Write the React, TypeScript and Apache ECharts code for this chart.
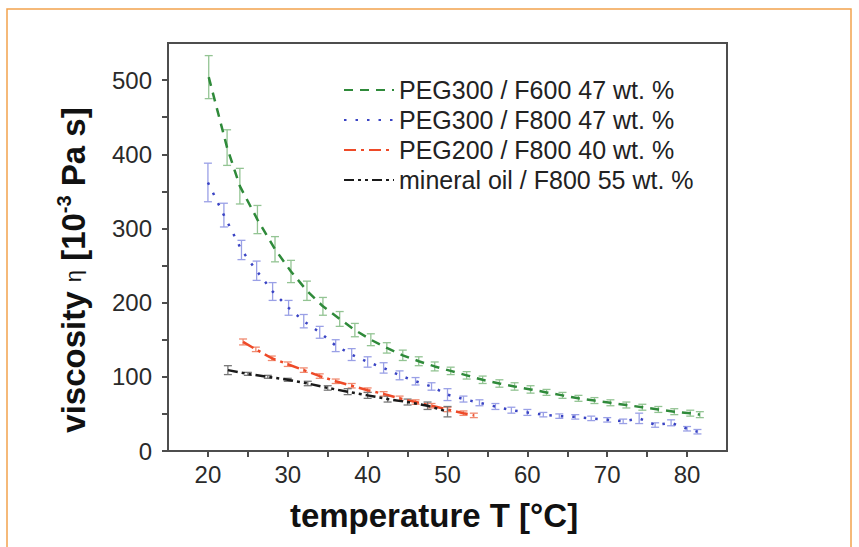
import React, { useEffect, useRef } from "react";
import * as echarts from "echarts";

// ---- data ----
const greenT = [20.1, 22.4, 24.0, 26.2, 28.4, 30.4, 32.4, 34.4, 36.5, 38.4, 40.4, 42.4, 44.4, 46.4, 48.4, 50.4, 52.4, 54.4, 56.5, 58.4, 60.4, 62.4, 64.4, 66.4, 68.4, 70.4, 72.4, 74.4, 76.4, 78.4, 80.4, 81.6];
const greenV = [504, 409, 357, 312, 272, 242, 216, 195, 178, 163, 150, 139, 129, 121, 114, 108, 102, 96, 91, 87, 83, 79, 75, 71, 68, 65, 62, 59, 56, 53, 51, 49];
const greenErr = [29, 24, 24, 19, 17, 15, 13, 12, 10, 9, 8, 7, 7, 6, 6, 5, 5, 5, 5, 5, 5, 4, 4, 4, 4, 4, 4, 4, 4, 4, 4, 4];

const blueT = [20, 22, 24.2, 26.1, 28.1, 30.1, 32, 34, 36, 38, 40, 42, 44, 46, 48, 50, 52, 54, 56, 58, 60, 62, 64, 66, 68, 70, 72, 74, 76, 78, 80, 81.3];
const blueV = [362, 318, 271, 243, 215, 193, 175, 160, 142, 130, 120, 112, 102, 94, 87, 76, 70, 65, 60, 55, 52, 49, 47, 46, 44, 42, 40, 44, 35, 38, 30, 26];
const blueErr = [26, 16, 13, 13, 12, 10, 9, 8, 8, 8, 7, 7, 6, 5, 5, 8, 4, 4, 4, 4, 4, 3, 3, 3, 3, 3, 3, 7, 3, 4, 3, 3];

const redT = [24.4, 26, 28, 30, 32, 34, 36, 38, 40, 42, 44, 46, 48, 50, 52, 53.3];
const redV = [147, 137, 125, 117, 109, 101, 94, 88, 82, 77, 71, 66, 61, 56, 51, 48];
const redErr = [4, 3, 3, 3, 3, 3, 3, 3, 3, 3, 3, 3, 3, 3, 3, 3];

const blackT = [22.5, 25, 27.5, 30, 32.5, 35, 37.5, 40, 42.5, 45, 47.5, 50];
const blackV = [109, 104, 100, 96, 91, 85, 80, 75, 70, 66, 61, 53];
const blackErr = [6, 2, 2, 2, 3, 3, 4, 4, 4, 4, 5, 7];

const seriesNames = [
  "PEG300 / F600 47 wt. %",
  "PEG300 / F800 47 wt. %",
  "PEG200 / F800 40 wt. %",
  "mineral oil / F800 55 wt. %",
];

const xLabelTicks = [20, 30, 40, 50, 60, 70, 80];
const xTickValues = [20, 25, 30, 35, 40, 45, 50, 55, 60, 65, 70, 75, 80];
const yLabelTicks = [0, 100, 200, 300, 400, 500];
const yTickValues = [0, 50, 100, 150, 200, 250, 300, 350, 400, 450, 500];

const zip2 = (a: number[], b: number[]) => a.map((v, i) => [v, b[i]]);
const zip3 = (a: number[], b: number[], c: number[]) => a.map((v, i) => [v, b[i], c[i]]);

function errorBars(data: number[][], color: string, z: number) {
  return {
    type: "custom",
    silent: true,
    z,
    data,
    encode: { x: 0, y: 1 },
    renderItem: (_params: any, api: any) => {
      const x = api.value(0);
      const y = api.value(1);
      const e = api.value(2);
      const top = api.coord([x, y + e]);
      const bot = api.coord([x, y - e]);
      const hw = 4;
      const style = { stroke: color, lineWidth: 1.3 };
      return {
        type: "group",
        children: [
          { type: "line", shape: { x1: top[0], y1: top[1], x2: bot[0], y2: bot[1] }, style },
          { type: "line", shape: { x1: top[0] - hw, y1: top[1], x2: top[0] + hw, y2: top[1] }, style },
          { type: "line", shape: { x1: bot[0] - hw, y1: bot[1], x2: bot[0] + hw, y2: bot[1] }, style },
        ],
      };
    },
  };
}

const FONT = "'Liberation Sans', Arial, Helvetica, sans-serif";
const AXIS = "#4d4d4d";

export default function App() {
  const ref = useRef<HTMLDivElement>(null);
  useEffect(() => {
    if (!ref.current) return;
    const chart = echarts.init(ref.current, undefined, { renderer: "svg" });
    const lineSeries = (name: string, data: number[][], color: string, type: number[], width: number, z: number) => ({
      type: "line",
      name,
      data,
      symbol: "none",
      z,
      lineStyle: { color, width, type },
      itemStyle: { color },
    });
    chart.setOption({
      animation: false,
      backgroundColor: "#ffffff",
      grid: {
        left: 168,
        right: 132,
        top: 43,
        bottom: 96,
        show: true,
        borderColor: AXIS,
        borderWidth: 2,
        backgroundColor: "transparent",
      },
      xAxis: {
        type: "value",
        min: 15,
        max: 85,
        interval: 5,
        axisLine: { show: true, lineStyle: { color: AXIS, width: 2 } },
        axisTick: { show: true, inside: false, length: 6, customValues: xTickValues, lineStyle: { color: AXIS, width: 2 } },
        axisLabel: { customValues: xLabelTicks, margin: 11, color: "#2a2a2a", fontSize: 24, fontFamily: FONT },
        splitLine: { show: false },
      },
      yAxis: {
        type: "value",
        min: 0,
        max: 550,
        interval: 50,
        axisLine: { show: true, lineStyle: { color: AXIS, width: 2 } },
        axisTick: { show: true, inside: false, length: 6, customValues: yTickValues, lineStyle: { color: AXIS, width: 2 } },
        axisLabel: { customValues: yLabelTicks, margin: 16, color: "#2a2a2a", fontSize: 24, fontFamily: FONT },
        splitLine: { show: false },
      },
      legend: {
        data: seriesNames,
        orient: "vertical",
        left: 338,
        top: 72,
        itemWidth: 50,
        itemHeight: 14,
        itemGap: 4,
        itemStyle: { opacity: 0 },
        textStyle: { fontSize: 25, fontFamily: FONT, color: "#222", lineHeight: 26 },
        selectedMode: false,
      },
      graphic: [
        {
          type: "polyline",
          silent: true,
          shape: { points: [[7, 547], [7, 9], [851, 9], [851, 547]] },
          style: { stroke: "#f2a24e", lineWidth: 1.5, fill: "none" },
        },
        {
          type: "text",
          x: 73,
          y: 270,
          rotation: Math.PI / 2,
          style: {
            text: "{b|viscosity }{eta|η}{b| [10}{sup|-3}{b| Pa s]}",
            align: "center",
            verticalAlign: "middle",
            fill: "#111",
            rich: {
              b: { fontSize: 33, fontWeight: "bold", fontFamily: FONT, fill: "#111", lineHeight: 38 },
              eta: { fontSize: 22, fontWeight: "normal", fontFamily: FONT, fill: "#111", lineHeight: 38 },
              sup: { fontSize: 20, fontWeight: "bold", fontFamily: FONT, fill: "#111", verticalAlign: "top", lineHeight: 22 },
            },
          },
        },
        {
          type: "text",
          x: 434,
          y: 515,
          style: {
            text: "temperature T [°C]",
            align: "center",
            verticalAlign: "middle",
            fill: "#111",
            fontSize: 33,
            fontWeight: "bold",
            fontFamily: FONT,
          },
        },
      ],
      series: [
        errorBars(zip3(greenT, greenV, greenErr), "#93c493", 2),
        errorBars(zip3(blueT, blueV, blueErr), "#9aa0e6", 2),
        errorBars(zip3(redT, redV, redErr), "#f08a70", 2),
        errorBars(zip3(blackT, blackV, blackErr), "#777777", 2),
        lineSeries(seriesNames[0], zip2(greenT, greenV), "#2f8a3a", [9, 7], 2.5, 3),
        lineSeries(seriesNames[1], zip2(blueT, blueV), "#3a44c4", [2.5, 9], 2.5, 3),
        lineSeries(seriesNames[2], zip2(redT, redV), "#ee4a28", [12, 5, 3, 5], 2.5, 3),
        lineSeries(seriesNames[3], zip2(blackT, blackV), "#1a1a1a", [10, 4, 3, 4, 3, 4], 2.5, 3),
      ],
    });
    return () => chart.dispose();
  }, []);
  return <div ref={ref} style={{ position: "fixed", left: 0, top: 0, width: 859, height: 547 }} />;
}
